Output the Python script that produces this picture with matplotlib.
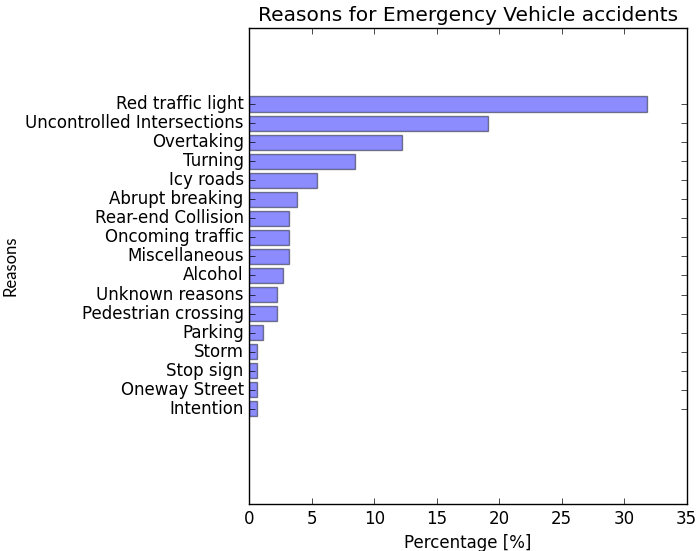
import matplotlib
matplotlib.use("Agg")
import matplotlib.pyplot as plt
import numpy as np

plt.style.use("classic")

reasons = [
    "Red traffic light", "Uncontrolled Intersections", "Overtaking", "Turning",
    "Icy roads", "Abrupt breaking", "Rear-end Collision", "Oncoming traffic",
    "Miscellaneous", "Alcohol", "Unknown reasons", "Pedestrian crossing",
    "Parking", "Storm", "Stop sign", "Oneway Street", "Intention",
]
percentages = [
    31.8, 19.1, 12.2, 8.5, 5.4, 3.8, 3.2, 3.2,
    3.2, 2.7, 2.2, 2.2, 1.1, 0.6, 0.6, 0.6, 0.6,
]

# largest at the top: reverse so index 0 sits at the bottom
labels = reasons[::-1]
values = percentages[::-1]
pos = np.arange(len(labels))

fig = plt.figure(figsize=(7.0, 5.51), dpi=100)
fig.patch.set_facecolor("white")
ax = fig.add_axes([0.356, 0.0853, 0.625, 0.864])

ax.barh(pos, values, height=0.8, align="center", color="b", alpha=0.45,
        edgecolor="k", linewidth=1.0)

ax.set_yticks(pos)
ax.set_yticklabels(labels, fontsize=12)
ax.set_xlim(0, 35)
ax.set_ylim(-5, 20)
ax.set_xticks(np.arange(0, 36, 5))
ax.tick_params(axis="x", labelsize=12)
ax.set_xlabel("Percentage [%]", fontsize=12)
ax.set_ylabel("Reasons", fontsize=12, family="Lato")
ax.set_title("Reasons for Emergency Vehicle accidents", fontsize=14.5)

fig.savefig("out.png", dpi=100, facecolor="white")
